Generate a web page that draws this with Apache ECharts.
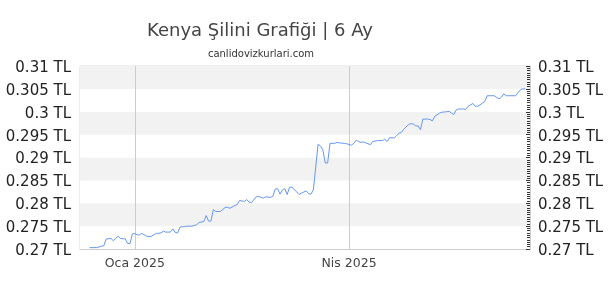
<!DOCTYPE html>
<html>
<head>
<meta charset="utf-8">
<script src="https://cdn.jsdelivr.net/npm/echarts@6/dist/echarts.min.js"></script>
<style>html,body{margin:0;padding:0;background:#fff}#c{width:610px;height:300px}</style>
</head>
<body>
<div id="c"></div>
<script>
const titleText = 'Kenya Şilini Grafiği | 6 Ay';
const subtitleText = 'canlidovizkurlari.com';
const dates = [
 '2024-12-13','2024-12-16','2024-12-18','2024-12-19','2024-12-20','2024-12-22','2024-12-23','2024-12-24','2024-12-25','2024-12-26',
 '2024-12-28','2024-12-29','2024-12-30','2024-12-31','2025-01-01','2025-01-02','2025-01-03','2025-01-04','2025-01-06','2025-01-07',
 '2025-01-08','2025-01-09','2025-01-10','2025-01-12','2025-01-13','2025-01-14','2025-01-16','2025-01-17','2025-01-18','2025-01-19',
 '2025-01-20','2025-01-22','2025-01-23','2025-01-25','2025-01-27','2025-01-28','2025-01-30','2025-01-31','2025-02-01','2025-02-02',
 '2025-02-03','2025-02-04','2025-02-06','2025-02-08','2025-02-09','2025-02-10','2025-02-12','2025-02-13','2025-02-14','2025-02-16',
 '2025-02-17','2025-02-18','2025-02-19','2025-02-21','2025-02-22','2025-02-24','2025-02-25','2025-02-27','2025-02-28','2025-03-01',
 '2025-03-02','2025-03-03','2025-03-04','2025-03-05','2025-03-06','2025-03-07','2025-03-08','2025-03-10','2025-03-11','2025-03-12',
 '2025-03-14','2025-03-15','2025-03-16','2025-03-17','2025-03-19','2025-03-20','2025-03-21','2025-03-22','2025-03-23','2025-03-24',
 '2025-03-26','2025-03-27','2025-03-28','2025-03-30','2025-03-31','2025-04-02','2025-04-03','2025-04-04','2025-04-05','2025-04-06',
 '2025-04-07','2025-04-08','2025-04-10','2025-04-11','2025-04-13','2025-04-15','2025-04-16','2025-04-17','2025-04-18','2025-04-20',
 '2025-04-21','2025-04-22','2025-04-23','2025-04-24','2025-04-26','2025-04-27','2025-04-28','2025-04-29','2025-04-30','2025-05-01',
 '2025-05-02','2025-05-04','2025-05-05','2025-05-06','2025-05-07','2025-05-09','2025-05-10','2025-05-12','2025-05-13','2025-05-14',
 '2025-05-15','2025-05-16','2025-05-17','2025-05-19','2025-05-20','2025-05-21','2025-05-23','2025-05-24','2025-05-25','2025-05-26',
 '2025-05-27','2025-05-28','2025-05-29','2025-05-31','2025-06-01','2025-06-03','2025-06-04','2025-06-05','2025-06-06','2025-06-08',
 '2025-06-10','2025-06-11','2025-06-12','2025-06-13','2025-06-14'
];
const rates = [
 0.2703,0.2703,0.2706,0.2707,0.2722,0.2723,0.2718,0.2723,0.2728,0.2723,
 0.2722,0.2712,0.2712,0.2733,0.2734,0.2731,0.2731,0.2734,0.2728,0.2727,
 0.2728,0.2731,0.2734,0.2735,0.2739,0.2737,0.2737,0.2744,0.2736,0.2735,
 0.2748,0.2749,0.2750,0.2750,0.2753,0.2758,0.2760,0.2773,0.2761,0.2761,
 0.2786,0.2782,0.2782,0.2791,0.2791,0.2789,0.2795,0.2797,0.2806,0.2804,
 0.2808,0.2803,0.2801,0.2814,0.2815,0.2811,0.2814,0.2813,0.2815,0.2831,
 0.2832,0.2820,0.2829,0.2832,0.2819,0.2835,0.2835,0.2825,0.2819,0.2822,
 0.2827,0.2821,0.2820,0.2829,0.2929,0.2925,0.2917,0.2888,0.2888,0.2931,
 0.2931,0.2933,0.2932,0.2931,0.2930,0.2927,0.2931,0.2938,0.2935,0.2933,
 0.2934,0.2932,0.2928,0.2935,0.2937,0.2937,0.2940,0.2935,0.2943,0.2943,
 0.2948,0.2953,0.2955,0.2962,0.2972,0.2974,0.2973,0.2969,0.2969,0.2961,
 0.2984,0.2984,0.2983,0.2980,0.2990,0.2997,0.2999,0.3000,0.3001,0.2997,
 0.2994,0.3004,0.3006,0.3006,0.3005,0.3012,0.3018,0.3012,0.3012,0.3015,
 0.3019,0.3022,0.3035,0.3035,0.3035,0.3028,0.3032,0.3039,0.3035,0.3035,
 0.3035,0.3042,0.3048,0.3050,0.3050
];
const xRange = ['2024-12-09', '2025-06-16'];
const xTickDates = ['2025-01-01', '2025-04-01'];
const xTickLabels = ['Oca 2025', 'Nis 2025'];
const yMin = 0.27, yMax = 0.31, yStep = 0.005;
const unit = ' TL';

function ts(s) { const p = s.split('-').map(Number); return Date.UTC(p[0], p[1] - 1, p[2]); }
const tickTs = xTickDates.map(ts);
const seriesData = dates.map((d, i) => [ts(d), rates[i]]);
const FONT = 'DejaVu Sans';
const yLabel = v => '{v|' + (+v.toFixed(3)) + unit + '}';
const yRich = { v: { fontFamily: FONT, fontSize: 15, color: '#222', padding: [4, 0, 0, 0] } };

const chart = echarts.init(document.getElementById('c'), null, { renderer: 'canvas' });
chart.setOption({
  animation: false,
  backgroundColor: '#ffffff',
  title: [
    { text: titleText, left: 255, top: 17, textAlign: 'center',
      textStyle: { fontFamily: FONT, fontSize: 18, fontWeight: 'normal', color: '#444' } },
    { text: subtitleText, left: 256, top: 44, textAlign: 'center',
      textStyle: { fontFamily: FONT, fontSize: 10, fontWeight: 'normal', color: '#333' } }
  ],
  grid: { left: 80, top: 66, width: 450, height: 183, show: true, borderColor: '#dcdcdc', borderWidth: 1, backgroundColor: 'transparent' },
  xAxis: {
    type: 'value', min: ts(xRange[0]), max: ts(xRange[1]), scale: true,
    axisLine: { show: true, lineStyle: { color: '#cccccc', width: 1 } },
    axisTick: { show: false, customValues: tickTs },
    axisLabel: { customValues: tickTs, fontFamily: FONT, fontSize: 12.5, color: '#444', margin: 8,
      formatter: v => { const i = tickTs.indexOf(v); return i >= 0 ? xTickLabels[i] : ''; } },
    splitLine: { show: true, lineStyle: { color: '#cccccc', width: 1 } }
  },
  yAxis: [
    { type: 'value', position: 'left', min: yMin, max: yMax, interval: yStep,
      axisLine: { show: false }, axisTick: { show: false },
      axisLabel: { formatter: yLabel, rich: yRich, fontFamily: FONT, fontSize: 15, color: '#222', margin: 9 },
      splitLine: { show: false },
      splitArea: { show: true, areaStyle: { color: ['#ffffff', '#f2f2f2'] } } },
    { type: 'value', position: 'right', min: yMin, max: yMax, interval: yStep,
      axisLine: { show: true, lineStyle: { color: '#cccccc' } },
      axisTick: { show: true, inside: true, length: 4, lineStyle: { color: '#333' } },
      minorTick: { show: true, splitNumber: 10, length: 3, lineStyle: { color: '#333' } },
      axisLabel: { formatter: yLabel, rich: yRich, fontFamily: FONT, fontSize: 15, color: '#222', margin: 8 },
      splitLine: { show: false }, splitArea: { show: false } }
  ],
  series: [{
    type: 'line', data: seriesData, showSymbol: false, symbol: 'none',
    lineStyle: { color: '#6597f0', width: 1 }, itemStyle: { color: '#6597f0' }
  }]
});
</script>
</body>
</html>
